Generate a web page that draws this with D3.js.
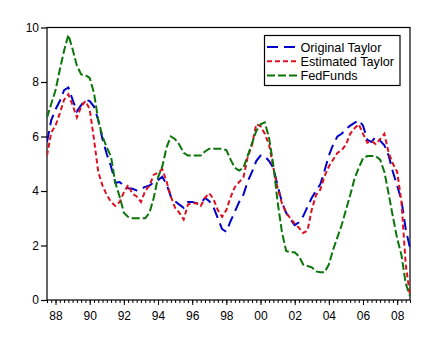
<!DOCTYPE html>
<html>
<head>
<meta charset="utf-8">
<script src="https://cdn.jsdelivr.net/npm/d3@7"></script>
<style>
  html, body { margin: 0; padding: 0; background: #fff; }
  svg { display: block; }
  text { font-family: Arial, "Liberation Sans", sans-serif; fill: #000; }
</style>
</head>
<body>
<svg id="chart" width="441" height="345"></svg>
<script>
// Quarterly series, first observation 1987Q3
const startYear = 1987.5;

const originalTaylor = [
  5.8, 6.6, 7.0, 7.3, 7.7, 7.8, 7.35, 6.92, 7.15, 7.35,
  7.3, 7.1, 6.6, 5.9, 5.35, 4.9, 4.3, 4.33, 4.2, 4.1,
  4.08, 4.02, 4.08, 4.15, 4.2, 4.32, 4.4, 4.52, 4.25, 3.8,
  3.62, 3.5, 3.38, 3.6, 3.6, 3.55, 3.55, 3.75, 3.63, 3.4,
  3.0, 2.6, 2.5, 2.9, 3.25, 3.6, 3.87, 4.35, 4.7, 5.1,
  5.3, 5.28, 5.1, 4.85, 4.2, 3.6, 3.2, 2.95, 2.75, 2.85,
  3.08, 3.42, 3.75, 4.0, 4.25, 4.75, 5.3, 5.7, 6.0, 6.1,
  6.28, 6.4, 6.5, 6.6, 6.4, 5.88, 5.8, 6.0, 5.85, 5.68,
  5.3, 4.7, 4.2, 3.65, 2.6, 1.9
];

const estimatedTaylor = [
  5.3, 6.15, 6.4, 6.85, 7.35, 7.55, 7.15, 6.7, 7.1, 7.3,
  7.0, 5.9, 4.7, 4.2, 3.85, 3.6, 3.45, 3.6, 3.95, 4.22,
  3.9, 3.8, 3.6, 4.0, 4.2, 4.6, 4.67, 4.8, 4.35, 3.8,
  3.38, 3.2, 2.95, 3.5, 3.55, 3.55, 3.45, 3.75, 3.92, 3.7,
  3.3, 3.05, 3.3, 3.78, 4.15, 4.33, 4.5, 5.25, 5.68, 6.45,
  6.38, 6.1, 5.7, 4.85, 4.1, 3.55, 3.2, 3.0, 2.8, 2.65,
  2.46, 2.55, 3.32, 3.85, 4.05, 4.55, 4.9, 5.15, 5.4, 5.5,
  5.7, 6.1, 6.3, 6.45, 6.1, 5.77, 5.83, 5.72, 5.9, 6.1,
  5.4, 5.0, 4.7, 3.6, 1.3, 0.15
];

const fedFunds = [
  6.69, 7.2, 7.7, 8.45, 9.15, 9.73, 9.2, 8.6, 8.28, 8.25,
  8.15, 7.6, 6.6, 6.0, 5.6, 5.25, 4.3, 3.8, 3.2, 3.05,
  3.0, 3.0, 3.0, 3.0, 3.2, 3.75, 4.5, 4.9, 5.6, 6.0,
  5.9, 5.7, 5.4, 5.3, 5.3, 5.3, 5.3, 5.45, 5.55, 5.55,
  5.55, 5.55, 5.5, 5.15, 4.85, 4.75, 4.85, 5.3, 5.75, 6.2,
  6.45, 6.52, 5.95, 4.95, 3.6, 2.5, 1.8, 1.75, 1.75, 1.6,
  1.3, 1.25, 1.2, 1.05, 1.02, 1.02, 1.3, 1.85, 2.3, 2.75,
  3.3, 3.85, 4.45, 4.85, 5.2, 5.28, 5.28, 5.28, 5.15, 4.7,
  3.9, 3.05, 2.25, 1.65, 0.6, 0.15
];

const yTicks = [0, 2, 4, 6, 8, 10];
const xLabelYears = [1988, 1990, 1992, 1994, 1996, 1998, 2000, 2002, 2004, 2006, 2008];

const seriesList = [
  { name: "Original Taylor", values: originalTaylor, color: "#0000cc", dash: "11,6" },
  { name: "Estimated Taylor", values: estimatedTaylor, color: "#dd1020", dash: "5,3" },
  { name: "FedFunds", values: fedFunds, color: "#0a760a", dash: "8,3" }
];

const svg = d3.select("#chart");
const plotLeft = 47, plotRight = 410, plotTop = 27.5, plotBottom = 300;

const n = originalTaylor.length;
const dates = d3.range(n).map(i => startYear + i / 4);

const x = d3.scaleLinear().domain([dates[0], dates[n - 1]]).range([plotLeft, plotRight]);
const y = d3.scaleLinear().domain([0, 10]).range([plotBottom, plotTop]);

// frame
svg.append("rect")
  .attr("x", plotLeft).attr("y", plotTop)
  .attr("width", plotRight - plotLeft).attr("height", plotBottom - plotTop)
  .attr("fill", "none").attr("stroke", "#000").attr("stroke-width", 1.2);

// y axis
const yAxis = svg.append("g")
  .attr("transform", `translate(${plotLeft},0)`)
  .call(d3.axisLeft(y).tickValues(yTicks).tickSize(6).tickPadding(2).tickFormat(d3.format("d")));
yAxis.select(".domain").remove();
yAxis.selectAll("line").attr("stroke", "#000").attr("stroke-width", 1.2);
yAxis.selectAll("text").style("font-size", "12px").style("font-family", "Arial, 'Liberation Sans', sans-serif");

// x axis: quarterly minor ticks
const xMinor = svg.append("g")
  .attr("transform", `translate(0,${plotBottom})`)
  .call(d3.axisBottom(x).tickValues(dates).tickSize(3).tickFormat(""));
xMinor.select(".domain").remove();
xMinor.selectAll("line").attr("stroke", "#000");

// x axis: yearly ticks with two-digit labels
const xMajor = svg.append("g")
  .attr("transform", `translate(0,${plotBottom})`)
  .call(d3.axisBottom(x).tickValues(xLabelYears).tickSize(5).tickPadding(6)
    .tickFormat(d => String(d % 100).padStart(2, "0")));
xMajor.select(".domain").remove();
xMajor.selectAll("line").attr("stroke", "#000");
xMajor.selectAll("text").style("font-size", "12px").style("font-family", "Arial, 'Liberation Sans', sans-serif");

// series lines
const line = d3.line()
  .x((d, i) => x(dates[i]))
  .y(d => y(d));

svg.append("clipPath").attr("id", "plotclip")
  .append("rect").attr("x", plotLeft).attr("y", plotTop - 2)
  .attr("width", plotRight - plotLeft + 1).attr("height", plotBottom - plotTop + 2);

svg.append("g").attr("clip-path", "url(#plotclip)")
  .selectAll("path.series")
  .data(seriesList)
  .join("path")
  .attr("class", "series")
  .attr("d", s => line(s.values))
  .attr("fill", "none")
  .attr("stroke", s => s.color)
  .attr("stroke-width", 2)
  .attr("stroke-dasharray", s => s.dash);

// legend
const legend = svg.append("g");
legend.append("rect")
  .attr("x", 264.5).attr("y", 35.5)
  .attr("width", 135.5).attr("height", 50)
  .attr("fill", "#fff").attr("stroke", "#000").attr("stroke-width", 1.2);

const rows = legend.selectAll("g.row")
  .data(seriesList)
  .join("g")
  .attr("class", "row")
  .attr("transform", (d, i) => `translate(0,${47 + i * 14.2})`);

rows.append("line")
  .attr("x1", 267).attr("x2", 297)
  .attr("y1", 0).attr("y2", 0)
  .attr("stroke", d => d.color)
  .attr("stroke-width", 2)
  .attr("stroke-dasharray", d => d.dash);

rows.append("text")
  .attr("x", 300.5).attr("y", 5)
  .style("font-size", "12.7px")
  .text(d => d.name);
</script>
</body>
</html>
